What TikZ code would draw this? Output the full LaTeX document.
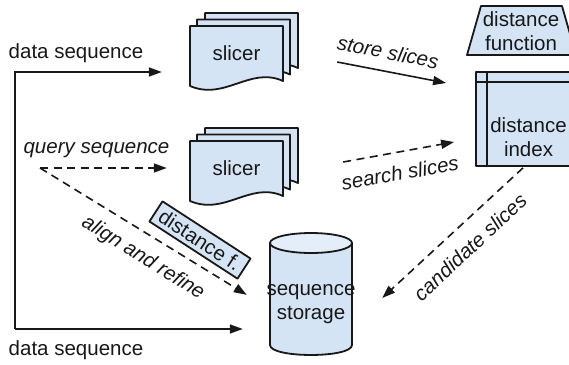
\documentclass[tikz,border=0pt]{standalone}
\usepackage{fontspec}
\setmainfont{Liberation Sans}
\usetikzlibrary{arrows.meta,calc}
\definecolor{boxfill}{RGB}{212,228,244}
\definecolor{boxtop}{RGB}{228,238,250}
\definecolor{ink}{RGB}{24,24,24}

% one page of a stacked "document" shape, top-left corner at (#1,#2)
\newcommand\docpage[2]{%
  \draw[shapeline, fill=boxfill] (#1,#2) -- (#1+93,#2) -- (#1+93,#2+55)
    .. controls (#1+60,#2+40) and (#1+35,#2+75) .. (#1,#2+60) -- cycle;}

\begin{document}
\begin{tikzpicture}[x=1pt, y=-1pt,
  every node/.style={text=ink, font=\fontsize{20.5}{23.5}\selectfont},
  shapeline/.style={draw=ink, line width=1.8pt, line join=round},
  label/.style={inner sep=0pt, align=center},
  slanted/.style={label, font=\fontsize{20.5}{23.5}\selectfont\itshape},
  conn/.style={draw=ink, line width=1.6pt, -{Triangle[length=13pt,width=9pt]}},
  dashconn/.style={conn, dash pattern=on 8pt off 5.5pt},
]
\useasboundingbox (0,0) rectangle (569,364);
\clip (0,0) rectangle (569,364);

% slicers
\docpage{205}{13}\docpage{197}{19.5}\docpage{190}{26}
\node[label, minimum width=93pt, minimum height=60pt] (slicerA) at (236.5,53) {slicer};
\docpage{205}{128}\docpage{197}{134.5}\docpage{190}{141}
\node[label, minimum width=93pt, minimum height=60pt] (slicerB) at (236.5,168) {slicer};

% distance function
\draw[shapeline, fill=boxfill] (467,55) -- (481,6) -- (562,6) -- (576,55) -- cycle;
\node[label] (dfunc) at (521,31) {distance\\function};

% distance index
\node[shapeline, fill=boxfill, minimum width=104pt, minimum height=94pt, inner sep=0pt] (dindex) at (528,119) {};
\draw[shapeline] ($(dindex.north west)+(12,0)$) -- ($(dindex.south west)+(12,0)$);
\draw[shapeline] ($(dindex.north west)+(0,11)$) -- ($(dindex.north east)+(0,11)$);
\node[label] (dindextext) at (528.5,137) {distance\\index};

% sequence storage
\node[minimum width=82pt, minimum height=121pt, inner sep=0pt] (storage) at (311,294.5) {};
\draw[shapeline, fill=boxfill] (270,243) -- (270,345)
  .. controls (270,358.3) and (352,358.3) .. (352,345) -- (352,243) -- cycle;
\draw[shapeline, fill=boxtop] (311,243) ellipse [x radius=41, y radius=10];
\node[label] (storagetext) at (311,304) {sequence\\storage};

% distance f.
\node[shapeline, fill=boxfill, rotate=-33, minimum width=105pt, minimum height=24pt, inner sep=0pt] (distf) at (200,240) {distance f.};

% data input
\coordinate (tl) at (15,72);
\coordinate (bl) at (15,329);
\node[label] (dataA) at (76,53) {data sequence};
\node[label] (dataB) at (76,350) {data sequence};
\draw[conn, line join=miter, shorten >=28pt] (bl) -- (tl) -- (slicerA.west |- tl);
\draw[conn, shorten >=27pt] (bl) -- (storage.west |- bl);

% query
\node[slanted] (query) at (96.5,150) {query sequence};
\coordinate (q) at (40,168);
\draw[dashconn, shorten >=23pt] (q) -- (slicerB.west |- q);
\draw[dashconn, shorten >=27pt] (q) -- ($(storage.west)+(0,14.5)$);
\node[slanted, rotate=-32] (align) at (143,258) {align and refine};

% slices
\draw[conn] ($(slicerA.east)+(54,9)$) -- ($(dindex.west)+(-29,-36)$);
\node[slanted, rotate=-11] (store) at (388,52) {store slices};
\draw[dashconn] ($(slicerB.east)+(60,-6)$) -- ($(dindex.west)+(-21,23)$);
\node[slanted, rotate=10] (search) at (400,173) {search slices};
\draw[dashconn] ($(dindex.south)+(-5,1)$) -- ($(storage.east)+(30,3.5)$);
\node[slanted, rotate=43] (cand) at (470,247) {candidate slices};
\end{tikzpicture}
\end{document}
